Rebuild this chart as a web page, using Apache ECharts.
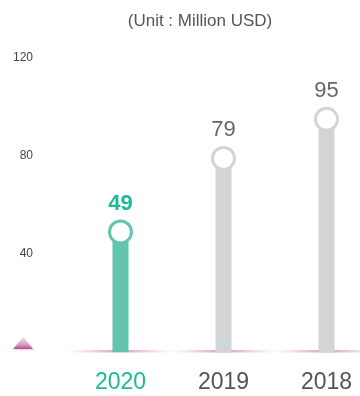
<!DOCTYPE html>
<html>
<head>
<meta charset="utf-8">
<style>
  html, body { margin: 0; padding: 0; background: #fff; }
  #chart { width: 360px; height: 396px; }
</style>
<script src="https://cdn.jsdelivr.net/npm/echarts@6/dist/echarts.min.js"></script>
</head>
<body>
<div id="chart"></div>
<script>
// Revenue by year, in million USD
const years = ['2020', '2019', '2018'];
const revenue = [49, 79, 95];
const yTicks = [0, 40, 80, 120];

const highlightYear = '2020';
const GREEN = '#63c5ad';
const GREEN_TEXT = '#1db996';
const GREY = '#d3d4d6';
const FONT = '"Liberation Sans", Helvetica, Arial, sans-serif';

const barColor = (i) => years[i] === highlightYear ? GREEN : GREY;

const chart = echarts.init(document.getElementById('chart'), null, { renderer: 'canvas' });

chart.setOption({
  animation: false,
  title: {
    text: '(Unit : Million USD)',
    left: 195,
    textAlign: 'center',
    top: 8,
    textStyle: { fontFamily: FONT, fontSize: 17, fontWeight: 'normal', color: '#555' }
  },
  // plot area runs past the right edge so the last band is cut off
  grid: { left: 69, width: 309, top: 58, bottom: 44, containLabel: false, outerBoundsMode: 'none' },
  xAxis: {
    type: 'category',
    data: years,
    axisLine: { show: false },
    axisTick: { show: false },
    axisLabel: {
      margin: 19,
      fontFamily: FONT,
      fontSize: 23,
      color: (v) => v === highlightYear ? GREEN_TEXT : '#555'
    }
  },
  yAxis: {
    type: 'value',
    min: yTicks[0],
    max: yTicks[yTicks.length - 1],
    interval: 40,
    splitLine: { show: false },
    axisLine: { show: false },
    axisTick: { show: false },
    axisLabel: {
      margin: 36,
      fontFamily: FONT,
      fontSize: 12,
      color: '#444',
      formatter: (v) => v === 0 ? '' : String(v)
    }
  },
  graphic: [
    {
      // small decorative triangle at the left end of the baseline
      type: 'polygon',
      shape: { points: [[23, 337], [13, 349], [33, 349]] },
      style: {
        fill: new echarts.graphic.LinearGradient(0, 0, 0, 1, [
          { offset: 0, color: '#f1e6ee' },
          { offset: 0.6, color: '#d9a6c6' },
          { offset: 1, color: '#c0498a' }
        ]),
        shadowColor: 'rgba(0,0,0,0.15)',
        shadowBlur: 2,
        shadowOffsetX: 1,
        shadowOffsetY: 1
      }
    }
  ],
  series: [
    {
      // faint pink baseline segment under each category
      type: 'custom',
      z: 1,
      data: years.map((y, i) => [i, 0]),
      renderItem: (params, api) => {
        const p = api.coord([api.value(0), 0]);
        const w = api.size([1, 0])[0];
        return {
          type: 'rect',
          shape: { x: p[0] - w / 2, y: p[1] - 2, width: w, height: 2.5 },
          style: {
            fill: new echarts.graphic.LinearGradient(0, 0, 1, 0, [
              { offset: 0, color: 'rgba(225,160,195,0.05)' },
              { offset: 0.5, color: 'rgba(212,125,172,0.8)' },
              { offset: 1, color: 'rgba(225,160,195,0.05)' }
            ])
          }
        };
      }
    },
    {
      type: 'bar',
      z: 2,
      barWidth: 16,
      data: revenue.map((v, i) => ({ value: v, itemStyle: { color: barColor(i) } }))
    },
    {
      type: 'scatter',
      z: 3,
      symbol: 'circle',
      symbolSize: 22,
      data: revenue.map((v, i) => ({
        value: [i, v],
        itemStyle: { color: '#fff', opacity: 1, borderColor: barColor(i), borderWidth: 3 },
        label: years[i] === highlightYear
          ? { color: GREEN_TEXT, fontWeight: 'bold' }
          : { color: '#666', fontWeight: 'normal' }
      })),
      label: {
        show: true,
        position: 'top',
        distance: 5,
        fontFamily: FONT,
        fontSize: 22,
        formatter: (p) => String(p.value[1])
      }
    }
  ]
});
</script>
</body>
</html>
